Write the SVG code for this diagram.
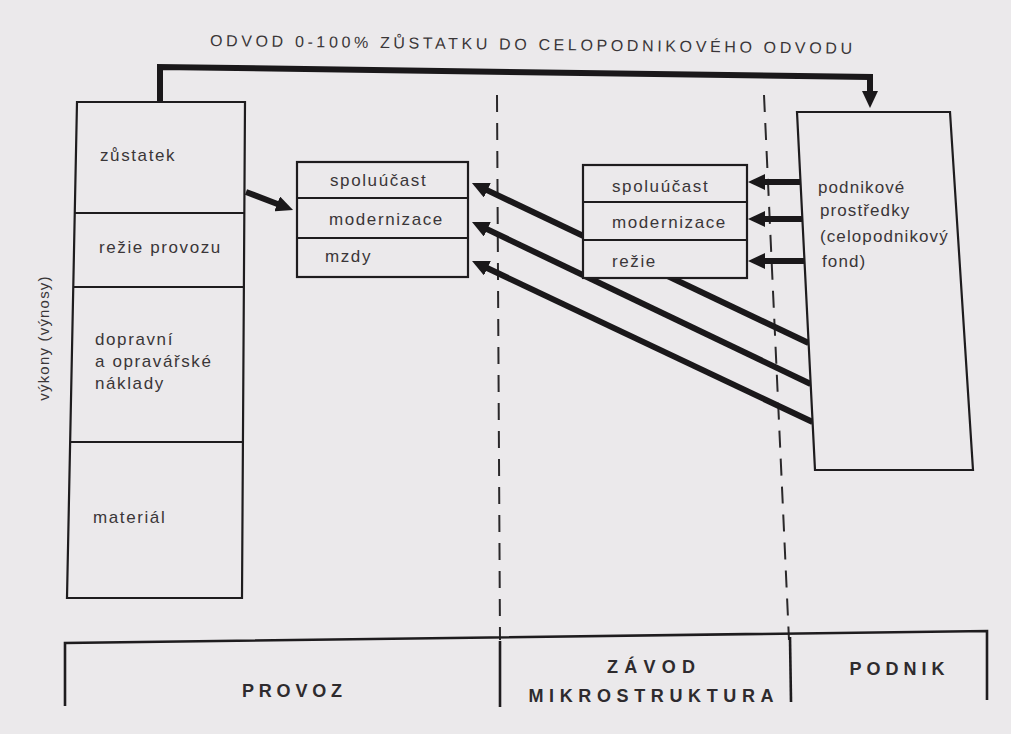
<svg xmlns="http://www.w3.org/2000/svg" width="1011" height="734" viewBox="0 0 1011 734">
<style>
.bg{fill:#ebe9eb}
.box{fill:#ebe9eb;stroke:#1e1c1e;stroke-width:2.2}
.div{stroke:#1e1c1e;stroke-width:2.2;fill:none}
.t{font-family:"Liberation Sans",Arial,sans-serif;font-size:17px;letter-spacing:1.6px;fill:#3a3638}
.cap{font-family:"Liberation Sans",Arial,sans-serif;font-size:18px;fill:#2e2b2e;font-weight:bold}
.title{font-family:"Liberation Sans",Arial,sans-serif;font-size:16px;fill:#3a3638}
.arrow{stroke:#1a181a;stroke-width:6;fill:none;marker-end:url(#ah)}
.dash{stroke:#2a282a;stroke-width:2;stroke-dasharray:17 11;fill:none}
.bar{stroke:#1e1c1e;stroke-width:2.6;fill:none}
</style>
<defs>
<marker id="ah" markerUnits="userSpaceOnUse" viewBox="0 0 17 16" markerWidth="17" markerHeight="16" refX="1" refY="8" orient="auto">
<path d="M0,0 L17,8 L0,16 z" fill="#1a181a"/>
</marker>
</defs>
<rect class="bg" x="0" y="0" width="1011" height="734"/>

<g id="title">
<text class="title" x="210" y="46" textLength="642" lengthAdjust="spacing" transform="rotate(0.7 210 46)">ODVOD 0-100% ZŮSTATKU DO CELOPODNIKOVÉHO ODVODU</text>
</g>

<g id="dividers">
<path class="dash" d="M497,95 L500,640"/>
<path class="dash" d="M764,95 L789,640"/>
</g>

<g id="connectors">
<path class="arrow" d="M160,102 V67 L870,77 V92" stroke-linejoin="miter"/>
<path class="arrow" d="M246,192 L278.1,204.3"/>
<path class="arrow" d="M808.6,343 L486.4,189.9"/>
<path class="arrow" d="M810.7,384 L486.4,228.9"/>
<path class="arrow" d="M812.6,422 L486.5,267.8"/>
<path class="arrow" d="M801,182 L764,182"/>
<path class="arrow" d="M802.4,219 L764,219"/>
<path class="arrow" d="M804.5,261 L764,261"/>
</g>

<g id="vykony-box">
<polygon class="box" points="77,102 245,102 242,598 67,598"/>
<line class="div" x1="74.8" y1="213" x2="244.3" y2="213"/>
<line class="div" x1="73.3" y1="287" x2="243.9" y2="287"/>
<line class="div" x1="70.1" y1="442" x2="242.9" y2="442"/>
<text class="t" x="100" y="161">zůstatek</text>
<text class="t" x="99" y="253">režie  provozu</text>
<text class="t" x="95" y="345">dopravní</text>
<text class="t" x="95" y="367">a opravářské</text>
<text class="t" x="95" y="389">náklady</text>
<text class="t" x="93" y="523">materiál</text>
</g>

<g id="vykony-label">
<text class="t" x="0" y="0" text-anchor="middle" transform="translate(49 338) rotate(-90)" style="font-size:15px;letter-spacing:1.2px">výkony (výnosy)</text>
</g>

<g id="provoz-box">
<rect class="box" x="297" y="162" width="171" height="115"/>
<line class="div" x1="297" y1="198" x2="468" y2="198"/>
<line class="div" x1="297" y1="238" x2="468" y2="238"/>
<text class="t" x="330" y="186">spoluúčast</text>
<text class="t" x="329" y="225">modernizace</text>
<text class="t" x="325" y="262">mzdy</text>
</g>

<g id="zavod-box">
<rect class="box" x="583" y="165" width="164" height="113"/>
<line class="div" x1="583" y1="202" x2="747" y2="202"/>
<line class="div" x1="583" y1="240" x2="747" y2="240"/>
<text class="t" x="612" y="192">spoluúčast</text>
<text class="t" x="612" y="228">modernizace</text>
<text class="t" x="612" y="267">režie</text>
</g>

<g id="podnik-box">
<polygon class="box" points="797,112 950,112 973,470 815,470"/>
<text class="t" x="818" y="193" style="letter-spacing:1.1px">podnikové</text>
<text class="t" x="820" y="216" style="letter-spacing:1.1px">prostředky</text>
<text class="t" x="820" y="242" style="letter-spacing:1.1px">(celopodnikový</text>
<text class="t" x="822" y="267" style="letter-spacing:1.1px">fond)</text>
</g>

<g id="bottom-bar">
<path class="bar" d="M65,706 V643 L987,631 V700"/>
<line class="bar" x1="500" y1="641" x2="500" y2="707"/>
<line class="bar" x1="790" y1="637" x2="791" y2="702"/>
<text class="cap" x="292" y="697" text-anchor="middle" textLength="100" lengthAdjust="spacing">PROVOZ</text>
<text class="cap" x="651" y="673" text-anchor="middle" textLength="88" lengthAdjust="spacing">ZÁVOD</text>
<text class="cap" x="651" y="702" text-anchor="middle" textLength="245" lengthAdjust="spacing">MIKROSTRUKTURA</text>
<text class="cap" x="897" y="675" text-anchor="middle" textLength="95" lengthAdjust="spacing">PODNIK</text>
</g>
</svg>
